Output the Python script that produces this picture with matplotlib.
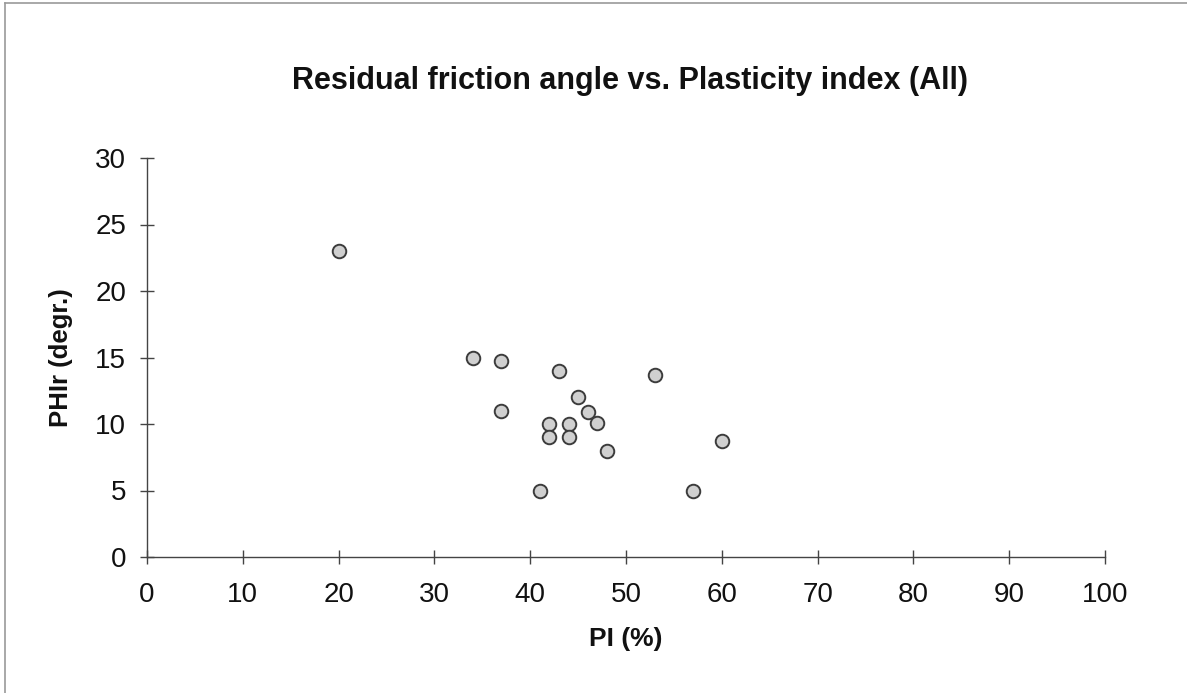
import matplotlib
matplotlib.use("Agg")
import matplotlib.pyplot as plt
from matplotlib.lines import Line2D

# Data
pi_values = [20, 34, 37, 37, 43, 53, 45, 46, 47, 42, 44, 42, 44, 48, 60, 41, 57]
phir_values = [23, 15, 14.7, 11, 14, 13.7, 12, 10.9, 10.1, 10, 10, 9, 9, 8, 8.7, 5, 5]

x_ticks = list(range(0, 101, 10))
y_ticks = list(range(0, 31, 5))

title = "Residual friction angle vs. Plasticity index (All)"
x_label = "PI (%)"
y_label = "PHIr (degr.)"

plt.rcParams['font.family'] = ['Liberation Sans', 'DejaVu Sans']

fig = plt.figure(figsize=(11.87, 6.93), dpi=100)
ax = fig.add_axes([147/1187, 1 - 557/693, (1105 - 147)/1187, (557 - 158)/693])

ax.scatter(pi_values, phir_values, s=95, facecolor='#d0d0d0', edgecolor='#3c3c3c',
           linewidth=1.4, zorder=3, clip_on=False)

ax.set_xlim(0, 100)
ax.set_ylim(0, 30)
ax.set_xticks(x_ticks)
ax.set_yticks(y_ticks)
for s in ['top', 'right']:
    ax.spines[s].set_visible(False)
for s in ['left', 'bottom']:
    ax.spines[s].set_color('#444444')
    ax.spines[s].set_linewidth(1.0)
ax.tick_params(axis='both', direction='inout', length=10, width=1.0, color='#444444',
               labelsize=20, labelcolor='#111111')
ax.tick_params(axis='x', pad=13)
ax.tick_params(axis='y', pad=10)

ax.set_xlabel(x_label, fontsize=19, fontweight='bold', labelpad=14, color='#111111')
ax.set_ylabel(y_label, fontsize=18.5, fontweight='bold', labelpad=16, color='#111111')

fig.text(630/1187, 1 - 89/693, title, fontsize=22, fontweight='bold',
         ha='center', va='baseline', color='#111111')

# page frame lines
fig.add_artist(Line2D([5/1187, 5/1187], [0, 1 - 3/693], transform=fig.transFigure,
                      color='#9a9a9a', linewidth=1.2))
fig.add_artist(Line2D([5/1187, 1], [1 - 3/693, 1 - 3/693], transform=fig.transFigure,
                      color='#9a9a9a', linewidth=1.2))

fig.savefig("out.png", dpi=100)
